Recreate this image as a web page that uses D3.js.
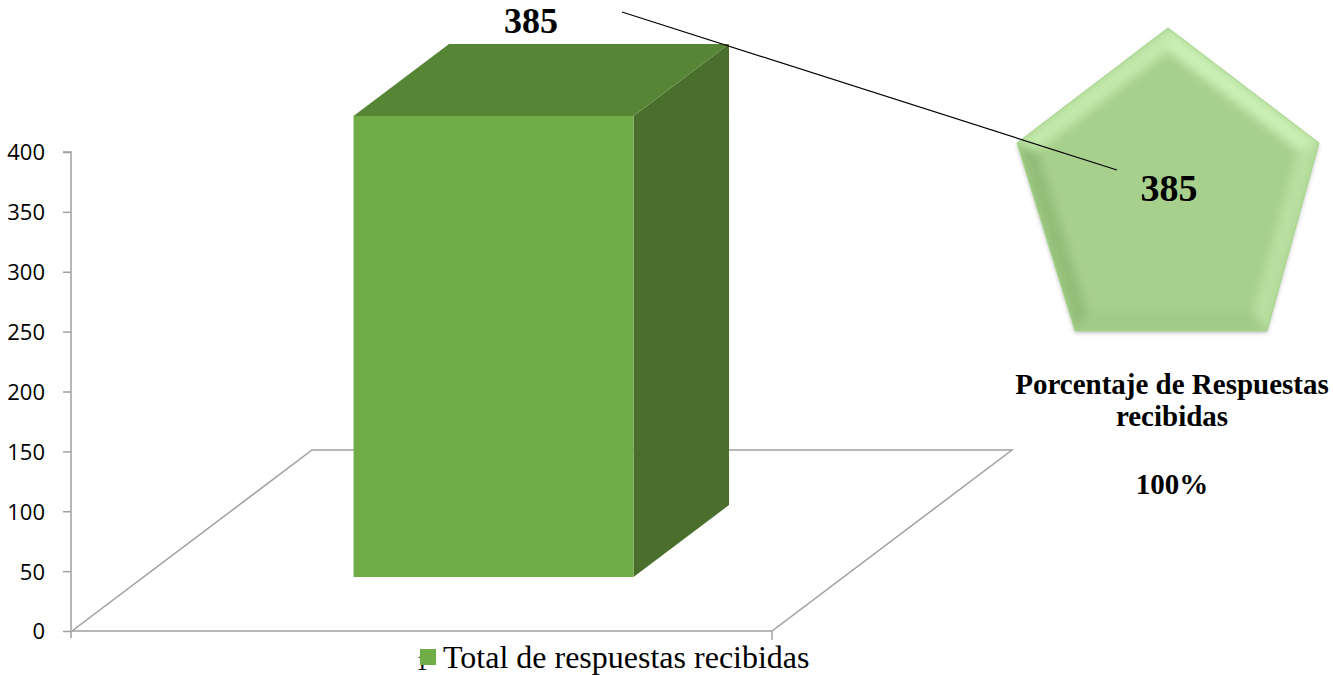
<!DOCTYPE html>
<html><head><meta charset="utf-8">
<script src="https://cdn.jsdelivr.net/npm/d3@7"></script>
<style>body{margin:0;background:#fff}svg{display:block}</style>
</head><body>
<svg id="c" width="1333" height="675"></svg>
<script>
const categories = ["1"];
const seriesName = "Total de respuestas recibidas";
const values = [385];
const yTicks = [0, 50, 100, 150, 200, 250, 300, 350, 400];
const calloutValue = "385";
const calloutTitle = ["Porcentaje de Respuestas", "recibidas"];
const calloutPercent = "100%";

const svg = d3.select("#c");
// 3D geometry
const x0 = 72, x1 = 772, yBase = 631, yTop = 152;
const depthDX = 240, depthDY = -181;
const y = d3.scaleLinear().domain([0, 400]).range([yBase, yTop]);
const x = d3.scaleBand().domain(categories).range([x0, x1]).paddingInner(0.4286).paddingOuter(0.4286);
function P(px, v, d) { return [px + depthDX * d, y(v) + depthDY * d]; }
const grey = "#a0a0a0";

// floor
const f = [P(x0, 0, 0), P(x1, 0, 0), P(x1, 0, 1), P(x0, 0, 1)];
svg.append("path").attr("d", d3.line()(f) + "Z").attr("fill", "none").attr("stroke", grey).attr("stroke-width", 1.5);

// y axis
const axis = svg.append("g").attr("transform", `translate(${x0 - 1},0)`)
  .call(d3.axisLeft(y).tickValues(yTicks).tickSize(8).tickPadding(18));
axis.select(".domain").attr("stroke", grey).attr("stroke-width", 1.5).attr("d", `M-8,${y(400)}H0V${yBase + 7}`);
axis.selectAll(".tick line").attr("stroke", grey).attr("stroke-width", 1.5);
axis.selectAll(".tick text").attr("font-family", "Open Sans, sans-serif").attr("font-size", 22).attr("fill", "#000").attr("dy", "0.36em");
svg.append("line").attr("x1", x1).attr("x2", x1).attr("y1", yBase).attr("y2", yBase + 9).attr("stroke", grey).attr("stroke-width", 1.5);
// category label
svg.selectAll(".cat").data(categories).enter().append("text")
  .attr("x", (x0 + x1) / 2).attr("y", 670)
  .attr("text-anchor", "middle").attr("font-family", "Liberation Serif, serif").attr("font-size", 24)
  .text(d => d);

// bars
const d0 = 0.298, d1 = 0.696;
const bars = svg.append("g");
categories.forEach((c, i) => {
  const v = values[i];
  const bx0 = x(c), bx1 = x(c) + x.bandwidth();
  const front = [P(bx0, 0, d0), P(bx1, 0, d0), P(bx1, v, d0), P(bx0, v, d0)];
  const side = [P(bx1, 0, d0), P(bx1, 0, d1), P(bx1, v, d1), P(bx1, v, d0)];
  const top = [P(bx0, v, d0), P(bx1, v, d0), P(bx1, v, d1), P(bx0, v, d1)];
  bars.append("path").attr("d", d3.line()(side) + "Z").attr("fill", "#4a6f2c");
  bars.append("path").attr("d", d3.line()(top) + "Z").attr("fill", "#578536");
  bars.append("path").attr("d", d3.line()(front) + "Z").attr("fill", "#70ad47");
  svg.append("text").attr("x", 531).attr("y", 33).attr("text-anchor", "middle")
    .attr("font-family", "Liberation Serif, serif").attr("font-weight", "bold").attr("font-size", 36)
    .text(v);
});

// callout pentagon with soft bevel
const pent = [[1168, 28], [1319, 143], [1267, 331], [1075, 331], [1017, 143]];
const cx = d3.mean(pent, p => p[0]), cy = d3.mean(pent, p => p[1]);
const inner = pent.map(p => [cx + (p[0] - cx) * 0.86, cy + (p[1] - cy) * 0.86]);
const defs = svg.append("defs");
const flt = defs.append("filter").attr("id", "sh").attr("x", "-10%").attr("y", "-10%").attr("width", "120%").attr("height", "120%");
flt.append("feDropShadow").attr("dx", 0).attr("dy", 2).attr("stdDeviation", 2).attr("flood-color", "#000").attr("flood-opacity", 0.25);
const blur = defs.append("filter").attr("id", "bl").attr("x", "-10%").attr("y", "-10%").attr("width", "120%").attr("height", "120%");
blur.append("feGaussianBlur").attr("stdDeviation", 4);
defs.append("clipPath").attr("id", "pc").append("path").attr("d", d3.line()(pent) + "Z");
svg.append("path").attr("d", d3.line()(pent) + "Z").attr("fill", "#a9d18e").attr("filter", "url(#sh)");
const bev = svg.append("g").attr("clip-path", "url(#pc)").append("g").attr("filter", "url(#bl)");
const facetColors = ["#cbefb5", "#b9e0a0", "#a2ca88", "#93bd78", "#c2e9aa"];
pent.forEach((p, i) => {
  const j = (i + 1) % 5;
  const q = [pent[i], pent[j], inner[j], inner[i]];
  bev.append("path").attr("d", d3.line()(q) + "Z").attr("fill", facetColors[i]);
});
bev.append("path").attr("d", d3.line()(inner) + "Z").attr("fill", "#a8d08d");
svg.append("path").attr("d", d3.line()(pent) + "Z").attr("fill", "none").attr("stroke", "#a6d78b").attr("stroke-width", 1);

// leader line
svg.append("line").attr("x1", 622).attr("y1", 12).attr("x2", 1117).attr("y2", 170).attr("stroke", "#000").attr("stroke-width", 1.2);

svg.append("text").attr("x", 1169).attr("y", 201).attr("text-anchor", "middle")
  .attr("font-family", "Liberation Serif, serif").attr("font-weight", "bold").attr("font-size", 38).text(calloutValue);

const tt = svg.append("g").attr("font-family", "Liberation Serif, serif").attr("font-weight", "bold").attr("font-size", 29).attr("text-anchor", "middle");
calloutTitle.forEach((t, i) => tt.append("text").attr("x", 1172).attr("y", 394 + i * 32).text(t));
tt.append("text").attr("x", 1172).attr("y", 494).text(calloutPercent);

// legend
const lg = svg.append("g");
lg.append("rect").attr("x", 420).attr("y", 649).attr("width", 16).attr("height", 16).attr("fill", "#70ad47");
lg.append("text").attr("x", 443).attr("y", 668).attr("font-family", "Liberation Serif, serif").attr("font-size", 32).text(seriesName);
</script>
</body></html>
